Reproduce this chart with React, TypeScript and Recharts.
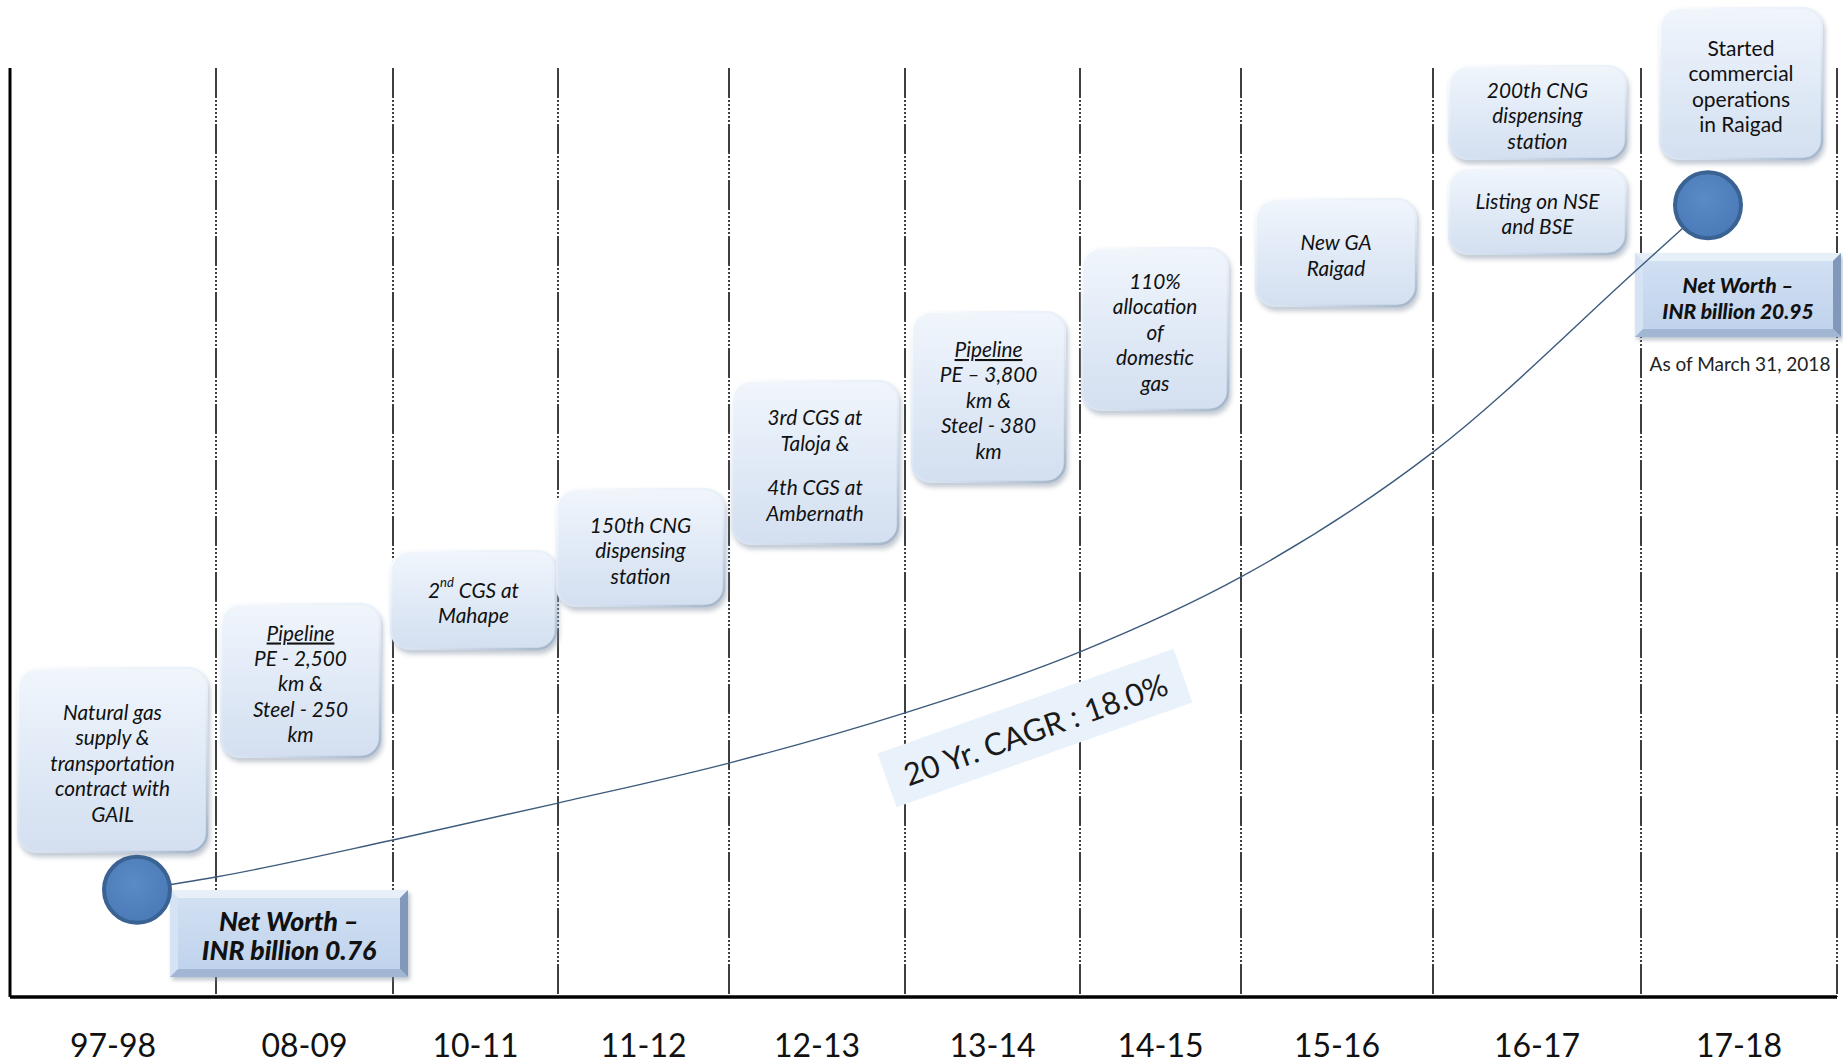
import React from 'react';
import {
  ComposedChart,
  Line,
  Scatter,
  XAxis,
  YAxis,
  ReferenceArea,
  ReferenceDot,
} from 'recharts';

// ---- data -------------------------------------------------------------

// Financial years along the timeline
const categories = ['97-98', '08-09', '10-11', '11-12', '12-13', '13-14', '14-15', '15-16', '16-17', '17-18'];

// Net worth, INR billion
const netWorthStart = 0.76;
const netWorthEnd = 20.95;
const asOfLabel = 'As of March 31, 2018';
const cagrLabel = '20 Yr. CAGR : 18.0%';

// Net worth trend curve sampled at each year boundary, INR billion
const trendAtBoundaries = [1.14, 2.23, 3.32, 4.5, 5.98, 7.78, 9.99, 13.67, 19.16];

// Milestone captions ('' = paragraph break, ^..^ = superscript, _.._ = underlined)
const milestoneTexts: string[][] = [
  ['Natural gas', 'supply &', 'transportation', 'contract with', 'GAIL'],
  ['_Pipeline_', 'PE - 2,500', 'km &', 'Steel - 250', 'km'],
  ['2^nd^ CGS at', 'Mahape'],
  ['150th CNG', 'dispensing', 'station'],
  ['3rd CGS at', 'Taloja &', '', '4th CGS at', 'Ambernath'],
  ['_Pipeline_', 'PE \u2013 3,800', 'km &', 'Steel - 380', 'km'],
  ['110%', 'allocation', 'of', 'domestic', 'gas'],
  ['New GA', 'Raigad'],
  ['200th CNG', 'dispensing', 'station'],
  ['Listing on NSE', 'and BSE'],
  ['Started', 'commercial', 'operations', 'in Raigad'],
];
const milestoneItalic = [true, true, true, true, true, true, true, true, true, true, false];

// ---- layout -----------------------------------------------------------

const CHART_W = 1843;
const CHART_H = 1062;
const MARGIN = { top: 68, right: 6, bottom: 0, left: 10 };
const AXIS_H = 65;
const X_DOMAIN: [number, number] = [10, 1837];
const PX_DOMAIN: [number, number] = [68, 997]; // layout axis, top to bottom
const VALUE_DOMAIN: [number, number] = [-2.4, 25];
const BAND_EDGES = [10, 216, 393, 558, 729, 905, 1080, 1241, 1433, 1641, 1837];
const DOT_X = [137, 1708];

// x1, y1, x2, y2 on the layout axes
const MILESTONE_RECTS = [
  [17, 667, 208, 853],
  [220, 603, 381, 758],
  [390, 550, 557, 650],
  [556, 488, 725, 607],
  [731, 380, 899, 545],
  [911, 311, 1066, 483],
  [1081, 247, 1229, 411],
  [1255, 198, 1417, 307],
  [1448, 65, 1627, 160],
  [1448, 167, 1627, 255],
  [1659, 7, 1823, 160],
];
const NET_WORTH_RECTS = [
  [170, 890, 408, 977],
  [1635, 253, 1841, 337],
];
const NET_WORTH_FONT = [26.5, 21];
const NET_WORTH_GAP = [29, 26];
const AS_OF_POS = [1740, 363];
const CAGR_POS = [1035, 728];
const CAGR_ANGLE = -19.5;

const FONT = "Lato, 'Open Sans', sans-serif";
const LINE_H = 25.5;
const DASH = '30 2 2 2 2 2 2 2 2 2 2 2 2 2';

const bandCenters = categories.map((_, i) => (BAND_EDGES[i] + BAND_EDGES[i + 1]) / 2);

const trendData = [
  { x: DOT_X[0], v: netWorthStart },
  ...trendAtBoundaries.map((v, i) => ({ x: BAND_EDGES[i + 1], v })),
  { x: DOT_X[1], v: netWorthEnd },
];
const dotData = [
  { x: DOT_X[0], v: netWorthStart },
  { x: DOT_X[1], v: netWorthEnd },
];

// ---- pieces -----------------------------------------------------------

function renderSegments(line: string) {
  if (line.startsWith('_') && line.endsWith('_')) {
    return <tspan textDecoration="underline">{line.slice(1, -1)}</tspan>;
  }
  const parts = line.split('^');
  if (parts.length === 1) return line;
  return parts.map((p, k) =>
    k % 2 === 1 ? (
      <tspan key={k} dy={-7} fontSize={13}>
        {p}
      </tspan>
    ) : (
      <tspan key={k} dy={k > 0 ? 7 : 0}>
        {p}
      </tspan>
    )
  );
}

// Year divider drawn as a thin band so it shares the layer of the boxes
function Divider(props: any) {
  const { x, y, width, height, solid } = props;
  const lx = x + width / 2;
  return (
    <line
      x1={lx}
      y1={y}
      x2={lx}
      y2={y + height}
      stroke="#000"
      strokeWidth={solid ? 3 : 1.5}
      strokeDasharray={solid ? undefined : DASH}
    />
  );
}

function MilestoneBox(props: any) {
  const { x, y, width, height, idx } = props;
  const lines: string[] = milestoneTexts[idx];
  const italic = milestoneItalic[idx];
  const heights = lines.map((l) => (l === '' ? LINE_H * 0.76 : LINE_H));
  const total = heights.reduce((a, b) => a + b, 0);
  const cx = x + width / 2;
  let cursor = y + height / 2 + 2 - total / 2;
  const gid = `mbg${idx}`;
  const sid = `mbs${idx}`;
  const rid = `mbr${idx}`;
  return (
    <g>
      <defs>
        <linearGradient id={gid} x1="0" y1="0" x2="0" y2="1">
          <stop offset="0%" stopColor="#f1f6fc" />
          <stop offset="45%" stopColor="#e2ebf7" />
          <stop offset="100%" stopColor="#d3dff0" />
        </linearGradient>
        <linearGradient id={rid} x1="0" y1="0" x2="1" y2="1">
          <stop offset="0%" stopColor="#ffffff" stopOpacity={0.9} />
          <stop offset="55%" stopColor="#dfe8f3" stopOpacity={0.4} />
          <stop offset="100%" stopColor="#98abc2" stopOpacity={0.9} />
        </linearGradient>
        <filter id={sid} x="-20%" y="-20%" width="140%" height="140%">
          <feGaussianBlur stdDeviation="2.5" />
        </filter>
      </defs>
      <rect x={x + 2} y={y + 4} width={width} height={height} rx={20} fill="#8e9aaa" opacity={0.55} filter={`url(#${sid})`} />
      <rect x={x} y={y} width={width} height={height} rx={20} fill={`url(#${gid})`} />
      <rect x={x + 1} y={y + 1} width={width - 2} height={height - 2} rx={19} fill="none" stroke={`url(#${rid})`} strokeWidth={2.5} />
      {lines.map((l, k) => {
        const h = heights[k];
        const ly = cursor + h / 2;
        cursor += h;
        if (l === '') return null;
        return (
          <text
            key={k}
            x={cx}
            y={ly}
            textAnchor="middle"
            dominantBaseline="central"
            fontFamily={FONT}
            fontStyle={italic ? 'italic' : 'normal'}
            fontSize={italic ? 20.8 : 21}
            fill="#111"
          >
            {renderSegments(l)}
          </text>
        );
      })}
    </g>
  );
}

function NetWorthBox(props: any) {
  const { x, y, width: w, height: h, idx } = props;
  const b = 8;
  const fs = NET_WORTH_FONT[idx];
  const gap = NET_WORTH_GAP[idx];
  const value = idx === 0 ? netWorthStart : netWorthEnd;
  const cx = x + w / 2;
  const cy = y + h / 2 + 2;
  const gid = `nwg${idx}`;
  const sid = `nws${idx}`;
  return (
    <g>
      <defs>
        <linearGradient id={gid} x1="0" y1="0" x2="0" y2="1">
          <stop offset="0%" stopColor="#d3e1f3" />
          <stop offset="100%" stopColor="#bed2ec" />
        </linearGradient>
        <filter id={sid} x="-20%" y="-20%" width="140%" height="140%">
          <feGaussianBlur stdDeviation="2" />
        </filter>
      </defs>
      <rect x={x + 2} y={y + 3} width={w} height={h} fill="#7d8a9a" opacity={0.5} filter={`url(#${sid})`} />
      <rect x={x} y={y} width={w} height={h} fill={`url(#${gid})`} />
      <polygon points={`${x},${y} ${x + w},${y} ${x + w - b},${y + b} ${x + b},${y + b}`} fill="#e7eff9" />
      <polygon points={`${x},${y} ${x + b},${y + b} ${x + b},${y + h - b} ${x},${y + h}`} fill="#d6e3f4" />
      <polygon points={`${x + w},${y} ${x + w},${y + h} ${x + w - b},${y + h - b} ${x + w - b},${y + b}`} fill="#8198ba" />
      <polygon points={`${x},${y + h} ${x + b},${y + h - b} ${x + w - b},${y + h - b} ${x + w},${y + h}`} fill="#a1b6d3" />
      <text x={cx} y={cy - gap / 2} textAnchor="middle" dominantBaseline="central" fontFamily={FONT} fontStyle="italic" fontWeight={900} fontSize={fs} fill="#111">
        Net Worth {'\u2013'}
      </text>
      <text x={cx} y={cy + gap / 2} textAnchor="middle" dominantBaseline="central" fontFamily={FONT} fontStyle="italic" fontWeight={900} fontSize={fs} fill="#111">
        {`INR billion ${value}`}
      </text>
    </g>
  );
}

function NetWorthDot(props: any) {
  const { cx, cy } = props;
  return (
    <g>
      <defs>
        <radialGradient id="dotFill" cx="0.45" cy="0.4" r="0.6">
          <stop offset="0%" stopColor="#5a8bc6" />
          <stop offset="100%" stopColor="#4a7bb8" />
        </radialGradient>
      </defs>
      <circle cx={cx} cy={cy} r={33} fill="url(#dotFill)" stroke="#3a6293" strokeWidth={4} />
    </g>
  );
}

function CagrTag(props: any) {
  const { cx, cy } = props;
  return (
    <g transform={`rotate(${CAGR_ANGLE} ${cx} ${cy})`}>
      <rect x={cx - 157} y={cy - 28.5} width={314} height={57} fill="#e9f2fb" />
      <text x={cx} y={cy + 1} textAnchor="middle" dominantBaseline="central" fontFamily={FONT} fontSize={31} fill="#1a1a1a">
        {cagrLabel}
      </text>
    </g>
  );
}

function AsOfText(props: any) {
  const { cx, cy } = props;
  return (
    <text x={cx} y={cy} textAnchor="middle" dominantBaseline="central" fontFamily={FONT} fontSize={19} fill="#222">
      {asOfLabel}
    </text>
  );
}

function CategoryTick(props: any) {
  const { x, y, payload } = props;
  const i = bandCenters.indexOf(payload.value);
  return (
    <text x={x} y={y + 47} textAnchor="middle" dominantBaseline="central" fontFamily={FONT} fontSize={32} fill="#111">
      {categories[i]}
    </text>
  );
}

export default function App() {
  return (
    <div style={{ position: 'absolute', left: 0, top: 0, width: CHART_W, height: CHART_H, background: '#fff' }}>
      <ComposedChart width={CHART_W} height={CHART_H} margin={MARGIN}>
        <XAxis
          type="number"
          dataKey="x"
          domain={X_DOMAIN}
          allowDataOverflow
          ticks={bandCenters}
          tick={<CategoryTick />}
          tickLine={false}
          tickSize={0}
          tickMargin={0}
          interval={0}
          height={AXIS_H}
          axisLine={{ stroke: '#000', strokeWidth: 3.5 }}
        />
        <YAxis yAxisId="v" type="number" hide domain={VALUE_DOMAIN} allowDataOverflow />
        <YAxis yAxisId="px" type="number" hide domain={PX_DOMAIN} reversed allowDataOverflow />

        {BAND_EDGES.map((e, i) => (
          <ReferenceArea
            key={`edge${i}`}
            yAxisId="px"
            x1={e - 1}
            x2={e + 1}
            y1={PX_DOMAIN[0]}
            y2={PX_DOMAIN[1]}
            ifOverflow="visible"
            shape={(p: any) => <Divider {...p} solid={i === 0} />}
          />
        ))}

        {MILESTONE_RECTS.map((r, i) => (
          <ReferenceArea
            key={`m${i}`}
            yAxisId="px"
            x1={r[0]}
            y1={r[1]}
            x2={r[2]}
            y2={r[3]}
            ifOverflow="visible"
            shape={(p: any) => <MilestoneBox {...p} idx={i} />}
          />
        ))}

        <ReferenceDot x={CAGR_POS[0]} y={CAGR_POS[1]} yAxisId="px" ifOverflow="visible" shape={(p: any) => <CagrTag {...p} />} />

        <Line
          data={trendData}
          dataKey="v"
          yAxisId="v"
          type="monotone"
          stroke="#3d5b7d"
          strokeWidth={1.4}
          dot={false}
          activeDot={false}
          isAnimationActive={false}
        />

        {NET_WORTH_RECTS.map((r, i) => (
          <ReferenceArea
            key={`nw${i}`}
            yAxisId="px"
            x1={r[0]}
            y1={r[1]}
            x2={r[2]}
            y2={r[3]}
            ifOverflow="visible"
            shape={(p: any) => <NetWorthBox {...p} idx={i} />}
          />
        ))}

        <Scatter data={dotData} dataKey="v" yAxisId="v" shape={(p: any) => <NetWorthDot {...p} />} isAnimationActive={false} />

        <ReferenceDot x={AS_OF_POS[0]} y={AS_OF_POS[1]} yAxisId="px" ifOverflow="visible" shape={(p: any) => <AsOfText {...p} />} />
      </ComposedChart>
    </div>
  );
}
